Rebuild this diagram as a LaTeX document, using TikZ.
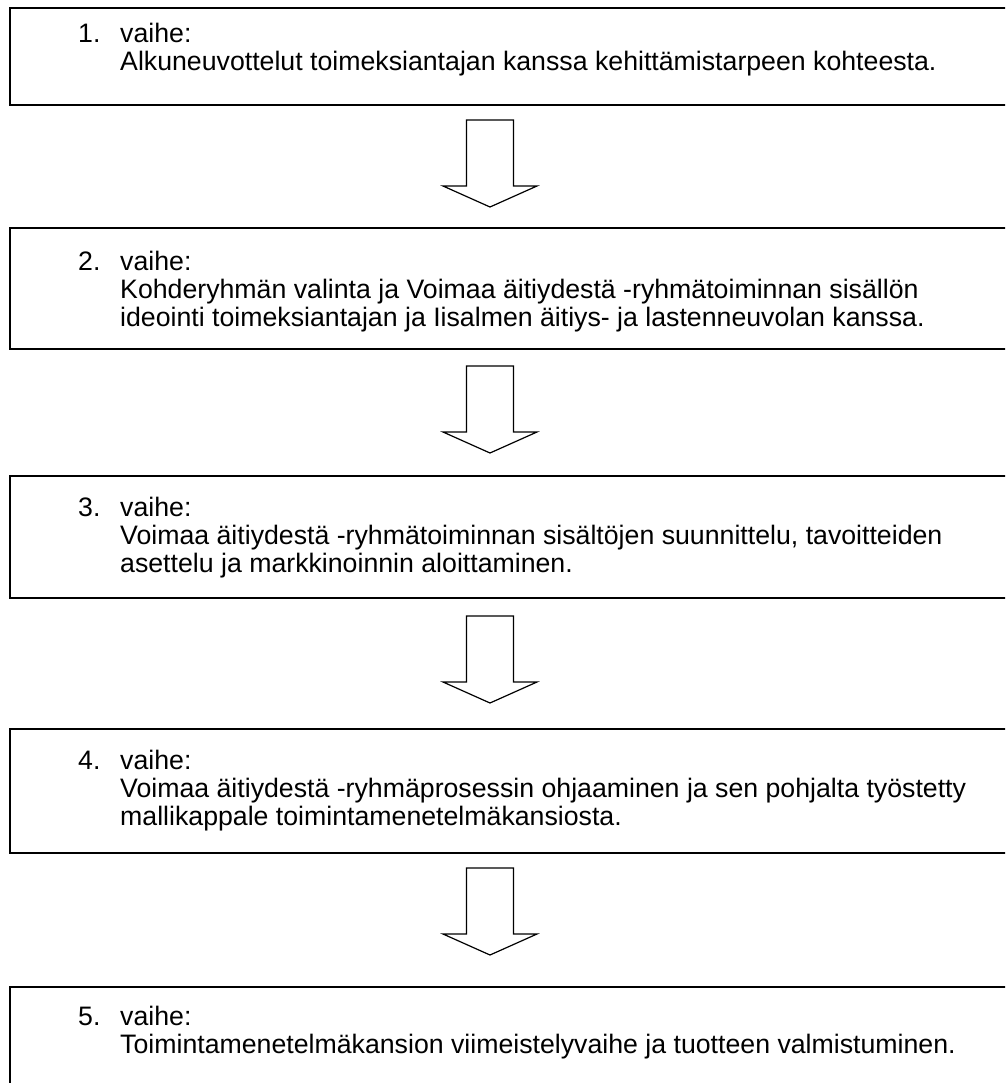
\documentclass[tikz,border=0pt]{standalone}
\usepackage{fontspec}
\setmainfont{Liberation Sans}
\begin{document}
\begin{tikzpicture}[x=1pt,y=-1pt,
  stepbox/.style={draw=black,line width=1.8pt,fill=none},
  numtext/.style={anchor=base west,inner sep=0pt,font=\fontsize{26.7}{28}\selectfont},
  bodytext/.style={anchor=base west,inner sep=0pt,font=\fontsize{26.7}{28}\selectfont},
  blockarrow/.style={draw=black,line width=1.2pt,fill=white,line join=miter},
  downarrow/.pic={\path[blockarrow] (-23.5,0) -- (23.5,0) -- (23.5,66) -- (47,66) -- (0,87) -- (-47,66) -- (-23.5,66) -- cycle;}
]
\newcommand{\steplines}[1]{\parbox[t]{880pt}{\fontsize{26.7}{28}\selectfont\raggedright #1}}
\useasboundingbox (0,0) rectangle (1005,1083);
\clip (0,0) rectangle (1005,1083);
\fill[white] (0,0) rectangle (1005,1083);
% boxes
\node[stepbox,inner sep=0pt,anchor=north west,minimum width=1010pt,minimum height=97pt] (b1) at (9,7) {};
\node[stepbox,inner sep=0pt,anchor=north west,minimum width=1010pt,minimum height=121pt] (b2) at (9,227) {};
\node[stepbox,inner sep=0pt,anchor=north west,minimum width=1010pt,minimum height=122pt] (b3) at (9,475) {};
\node[stepbox,inner sep=0pt,anchor=north west,minimum width=1010pt,minimum height=124pt] (b4) at (9,728) {};
\node[stepbox,inner sep=0pt,anchor=north west,minimum width=1010pt,minimum height=120pt] (b5) at (9,986) {};
% texts
\node[numtext] (n1) at (78,43) {1.};
\node[bodytext] (t1) at (120,43) {\steplines{vaihe:\\Alkuneuvottelut toimeksiantajan kanssa kehittämistarpeen kohteesta.}};
\node[numtext] (n2) at (78,270) {2.};
\node[bodytext] (t2) at (120,270) {\steplines{vaihe:\\Kohderyhmän valinta ja Voimaa äitiydestä -ryhmätoiminnan sisällön\\ideointi toimeksiantajan ja Iisalmen äitiys- ja lastenneuvolan kanssa.}};
\node[numtext] (n3) at (78,516) {3.};
\node[bodytext] (t3) at (120,516) {\steplines{vaihe:\\Voimaa äitiydestä -ryhmätoiminnan sisältöjen suunnittelu, tavoitteiden\\asettelu ja markkinoinnin aloittaminen.}};
\node[numtext] (n4) at (78,769) {4.};
\node[bodytext] (t4) at (120,769) {\steplines{vaihe:\\Voimaa äitiydestä -ryhmäprosessin ohjaaminen ja sen pohjalta työstetty\\mallikappale toimintamenetelmäkansiosta.}};
\node[numtext] (n5) at (78,1025) {5.};
\node[bodytext] (t5) at (120,1025) {\steplines{vaihe:\\Toimintamenetelmäkansion viimeistelyvaihe ja tuotteen valmistuminen.}};
% arrows
\coordinate (a1) at (490,120);
\coordinate (a2) at (490,366);
\coordinate (a3) at (490,616);
\coordinate (a4) at (490,868);
\pic at (a1) {downarrow};
\pic at (a2) {downarrow};
\pic at (a3) {downarrow};
\pic at (a4) {downarrow};
\end{tikzpicture}
\end{document}
